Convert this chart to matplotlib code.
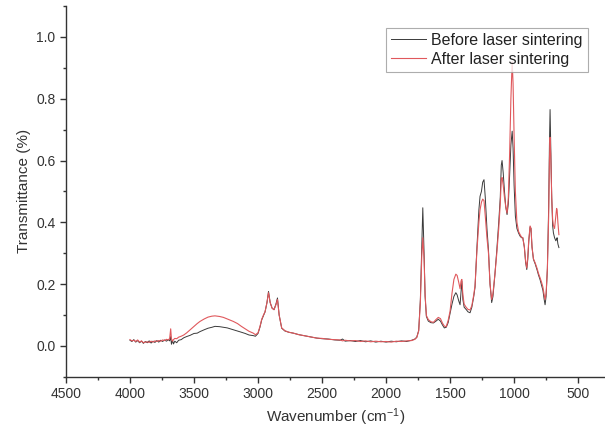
import matplotlib
matplotlib.use('Agg')
import matplotlib.pyplot as plt
from matplotlib.ticker import MultipleLocator

plt.rcParams['font.family'] = ['Liberation Sans', 'DejaVu Sans']
plt.rcParams['mathtext.default'] = 'regular'

# FTIR spectra
wavenumber = [4000, 3985, 3970, 3955, 3940, 3925, 3910, 3895, 3880, 3865, 3850, 3835, 3820, 3805,
              3790, 3775, 3760, 3745, 3730, 3715, 3700, 3690, 3682, 3676, 3668, 3660, 3650, 3635,
              3620, 3600, 3580, 3557, 3530, 3500, 3475, 3453, 3420, 3390, 3360, 3336, 3300, 3270,
              3240, 3210, 3193, 3160, 3130, 3100, 3070, 3037, 3020, 3000, 2985, 2971, 2955, 2945,
              2930, 2918, 2905, 2890, 2875, 2860, 2848, 2835, 2815, 2790, 2760, 2724, 2680, 2630,
              2580, 2541, 2500, 2450, 2400, 2359, 2340, 2320, 2280, 2240, 2200, 2160, 2120, 2080,
              2040, 2000, 1960, 1920, 1880, 1840, 1800, 1775, 1760, 1745, 1732, 1721, 1713, 1703,
              1695, 1685, 1670, 1650, 1630, 1610, 1592, 1575, 1560, 1545, 1530, 1515, 1500, 1485,
              1470, 1455, 1445, 1432, 1422, 1414, 1408, 1400, 1390, 1375, 1360, 1344, 1330, 1315,
              1305, 1290, 1275, 1266, 1255, 1245, 1235, 1225, 1212, 1200, 1188, 1175, 1165, 1150,
              1135, 1120, 1108, 1100, 1094, 1085, 1075, 1065, 1055, 1045, 1035, 1025, 1015, 1008,
              1000, 990, 978, 965, 953, 942, 932, 920, 910, 901, 893, 885, 875, 868,
              860, 849, 835, 820, 810, 797, 785, 775, 765, 758, 750, 740, 730, 724,
              719, 714, 706, 699, 693, 684, 674, 668, 664, 658, 650]

before = [0.018, 0.014, 0.020, 0.012, 0.017, 0.010, 0.015, 0.008, 0.014, 0.010, 0.016, 0.009, 0.015, 0.011,
          0.017, 0.012, 0.018, 0.014, 0.019, 0.015, 0.020, 0.016, 0.030, 0.005, 0.018, 0.006, 0.015, 0.010,
          0.018, 0.020, 0.026, 0.030, 0.034, 0.040, 0.041, 0.046, 0.052, 0.057, 0.060, 0.063, 0.062, 0.060,
          0.058, 0.054, 0.052, 0.048, 0.044, 0.040, 0.035, 0.033, 0.031, 0.040, 0.060, 0.084, 0.100, 0.110,
          0.140, 0.176, 0.140, 0.122, 0.117, 0.135, 0.155, 0.100, 0.057, 0.048, 0.044, 0.041, 0.036, 0.032,
          0.028, 0.025, 0.023, 0.022, 0.019, 0.018, 0.022, 0.015, 0.017, 0.014, 0.017, 0.013, 0.016, 0.012,
          0.015, 0.012, 0.015, 0.013, 0.016, 0.014, 0.018, 0.022, 0.028, 0.050, 0.150, 0.320, 0.447, 0.300,
          0.160, 0.095, 0.080, 0.075, 0.074, 0.080, 0.086, 0.080, 0.068, 0.058, 0.060, 0.075, 0.105, 0.135,
          0.160, 0.172, 0.165, 0.145, 0.133, 0.175, 0.210, 0.150, 0.125, 0.118, 0.110, 0.107, 0.125, 0.160,
          0.190, 0.320, 0.440, 0.484, 0.500, 0.530, 0.538, 0.480, 0.380, 0.310, 0.200, 0.140, 0.160, 0.230,
          0.310, 0.400, 0.480, 0.585, 0.600, 0.560, 0.500, 0.450, 0.425, 0.460, 0.550, 0.650, 0.695, 0.640,
          0.520, 0.420, 0.380, 0.365, 0.355, 0.350, 0.350, 0.320, 0.270, 0.247, 0.280, 0.340, 0.385, 0.380,
          0.320, 0.280, 0.265, 0.245, 0.230, 0.214, 0.195, 0.180, 0.150, 0.133, 0.160, 0.250, 0.450, 0.650,
          0.765, 0.650, 0.480, 0.390, 0.366, 0.350, 0.340, 0.345, 0.350, 0.330, 0.318]

after = [0.020, 0.016, 0.018, 0.014, 0.019, 0.012, 0.016, 0.010, 0.012, 0.013, 0.011, 0.015, 0.012, 0.016,
         0.014, 0.017, 0.015, 0.019, 0.017, 0.021, 0.019, 0.024, 0.055, 0.022, 0.015, 0.020, 0.024, 0.023,
         0.028, 0.031, 0.035, 0.042, 0.052, 0.063, 0.072, 0.079, 0.087, 0.093, 0.096, 0.097, 0.095, 0.092,
         0.087, 0.082, 0.079, 0.072, 0.063, 0.055, 0.047, 0.041, 0.036, 0.042, 0.062, 0.086, 0.102, 0.110,
         0.140, 0.172, 0.140, 0.122, 0.117, 0.133, 0.150, 0.100, 0.058, 0.049, 0.044, 0.041, 0.036, 0.032,
         0.028, 0.025, 0.024, 0.021, 0.020, 0.019, 0.016, 0.018, 0.016, 0.017, 0.014, 0.016, 0.013, 0.015,
         0.013, 0.014, 0.012, 0.015, 0.014, 0.016, 0.017, 0.021, 0.027, 0.048, 0.140, 0.290, 0.350, 0.280,
         0.165, 0.098, 0.085, 0.078, 0.076, 0.085, 0.092, 0.088, 0.074, 0.064, 0.062, 0.082, 0.112, 0.170,
         0.215, 0.232, 0.228, 0.205, 0.185, 0.210, 0.215, 0.165, 0.135, 0.125, 0.118, 0.116, 0.130, 0.165,
         0.195, 0.310, 0.400, 0.440, 0.465, 0.475, 0.470, 0.420, 0.350, 0.300, 0.200, 0.150, 0.170, 0.230,
         0.300, 0.380, 0.460, 0.540, 0.545, 0.520, 0.480, 0.450, 0.430, 0.480, 0.620, 0.800, 0.920, 0.850,
         0.680, 0.500, 0.400, 0.370, 0.360, 0.352, 0.350, 0.320, 0.275, 0.252, 0.290, 0.345, 0.388, 0.380,
         0.320, 0.282, 0.268, 0.250, 0.235, 0.220, 0.205, 0.190, 0.165, 0.150, 0.170, 0.250, 0.420, 0.600,
         0.675, 0.620, 0.480, 0.410, 0.390, 0.380, 0.420, 0.445, 0.440, 0.400, 0.360]

fig = plt.figure(figsize=(6.05, 4.37), dpi=100)
ax = fig.add_axes([0.109, 0.138, 0.891, 0.848])

ax.plot(wavenumber, before, color='#3a3a3a', lw=0.7, label='Before laser sintering')
ax.plot(wavenumber, after, color='#e0585c', lw=0.8, label='After laser sintering')

ax.set_xlim(4500, 290)
ax.set_ylim(-0.1, 1.1)
ax.xaxis.set_major_locator(MultipleLocator(500))
ax.xaxis.set_minor_locator(MultipleLocator(250))
ax.yaxis.set_major_locator(MultipleLocator(0.2))
ax.yaxis.set_minor_locator(MultipleLocator(0.1))
ax.set_yticks([0.0, 0.2, 0.4, 0.6, 0.8, 1.0])
ax.yaxis.set_major_formatter(plt.FormatStrFormatter('%.1f'))

for s in ['top', 'right']:
    ax.spines[s].set_visible(False)
for s in ['left', 'bottom']:
    ax.spines[s].set_color('#333333')
    ax.spines[s].set_linewidth(1.0)

ax.tick_params(which='major', direction='out', length=4, width=1, color='#333333',
               labelsize=10, labelcolor='#333333')
ax.tick_params(which='minor', direction='out', length=2.5, width=1, color='#333333')

ax.set_xlabel('Wavenumber (cm$^{-1}$)', fontsize=11, color='#333333')
ax.set_ylabel('Transmittance (%)', fontsize=11, color='#333333')

leg = ax.legend(loc='upper right', bbox_to_anchor=(0.968, 0.941), borderaxespad=0,
                fontsize=11.5, frameon=True, fancybox=False, handlelength=2.2,
                handletextpad=0.35, borderpad=0.3, labelspacing=0.25)
leg.get_frame().set_edgecolor('#999999')
leg.get_frame().set_linewidth(0.8)
for t in leg.get_texts():
    t.set_color('#222222')

plt.savefig('out.png', dpi=100)
